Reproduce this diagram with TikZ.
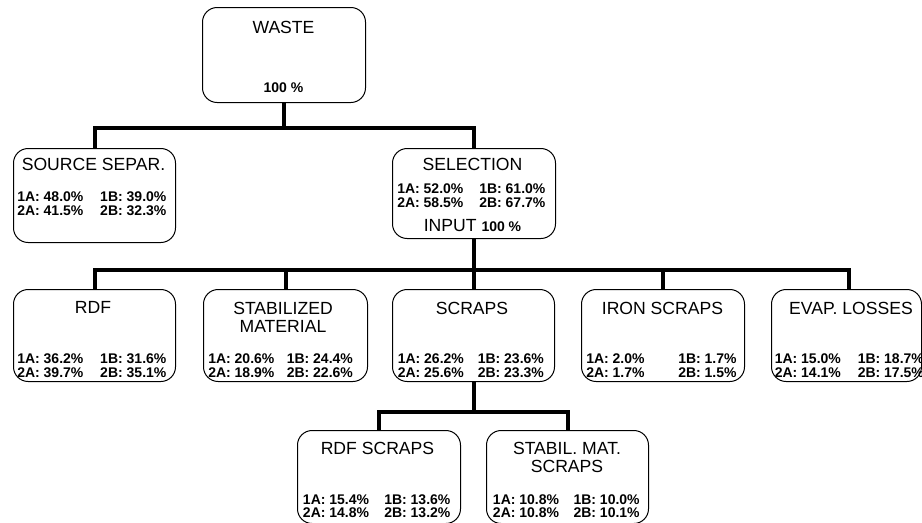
\documentclass[tikz,border=0pt]{standalone}
\usepackage{fontspec}
\setmainfont{Liberation Sans}
\usetikzlibrary{positioning}
\newlength\pxu
\setlength\pxu{0.75pt}
% two columns of shares, #1 = width of the first column in px
\newcommand\rates[5][82]{%
  \makebox[#1\pxu][l]{1A: #2\%}1B: #3\%\\
  \makebox[#1\pxu][l]{2A: #4\%}2B: #5\%}

\begin{document}
\begin{tikzpicture}[x=0.75pt,y=-0.75pt,
  box/.style 2 args={draw,line width=.75pt,rounded corners=11pt,anchor=north west,
    inner sep=0pt,minimum width=#1*0.75pt,minimum height=#2*0.75pt},
  title/.style={font=\fontsize{13.2}{13.7}\selectfont,align=center,anchor=north,inner sep=0pt},
  share/.style={font=\fontsize{10.5}{10.3}\selectfont\bfseries,align=left,anchor=north west,inner sep=0pt},
  trunk/.style={draw,line width=3pt}
]
\useasboundingbox (0,0) rectangle (922,522);
% level 0
\node[box={163}{95}] (waste) at (202,7) {};
\node[title] (waste-name) at (283.5,20.7) {WASTE};
\node[share,anchor=north] (waste-share) at (283.5,82) {100 \%};
% level 1
\node[box={162}{94}] (source) at (13,148) {};
\node[title] (source-name) at (93.5,158.3) {SOURCE SEPAR.};
\node[share] (source-share) at (17,191.7) {\rates[83]{48.0}{39.0}{41.5}{32.3}};
\node[box={163}{90}] (selection) at (392,148) {};
\node[title] (selection-name) at (472.5,158.3) {SELECTION};
\node[share] (selection-share) at (397,183.3) {\rates{52.0}{61.0}{58.5}{67.7}};
\node[title] (selection-input) at (472.5,219)
  {INPUT {\fontsize{10.5}{10.3}\selectfont\bfseries 100 \%}};
% level 2
\node[box={162}{92}] (rdf) at (13,289) {};
\node[title] (rdf-name) at (93,301.2) {RDF};
\node[share] (rdf-share) at (17,353.5) {\rates[83]{36.2}{31.6}{39.7}{35.1}};
\node[box={164}{92}] (stab) at (203,289) {};
\node[title] (stab-name) at (283,301.5) {STABILIZED\\MATERIAL};
\node[share] (stab-share) at (208,353.5) {\rates[78.5]{20.6}{24.4}{18.9}{22.6}};
\node[box={162}{92}] (scraps) at (392,289) {};
\node[title] (scraps-name) at (472,301.5) {SCRAPS};
\node[share] (scraps-share) at (397.5,353.5) {\rates[80]{26.2}{23.6}{25.6}{23.3}};
\node[box={163}{92}] (iron) at (581,289) {};
\node[title] (iron-name) at (662.5,301.5) {IRON SCRAPS};
\node[share] (iron-share) at (586,353.5) {\rates[92]{2.0}{1.7}{1.7}{1.5}};
\node[box={150}{92}] (evap) at (771,289) {};
\node[title] (evap-name) at (851,301.5) {EVAP. LOSSES};
\node[share] (evap-share) at (774.5,353.5) {\rates[83]{15.0}{18.7}{14.1}{17.5}};
% level 3
\node[box={163}{93}] (rdfscraps) at (297,430) {};
\node[title] (rdfscraps-name) at (377.5,441.7) {RDF SCRAPS};
\node[share] (rdfscraps-share) at (302.7,494) {\rates[81.3]{15.4}{13.6}{14.8}{13.2}};
\node[box={162}{93}] (stabscraps) at (486,430) {};
\node[title] (stabscraps-name) at (567,441.7) {STABIL. MAT.\\SCRAPS};
\node[share] (stabscraps-share) at (492.7,494) {\rates[80.6]{10.8}{10.0}{10.8}{10.1}};
% connectors
\coordinate (bus0) at (0,127.7);
\coordinate (bus1) at (0,270);
\coordinate (bus2) at (0,412.3);
\draw[trunk] (waste.south) -- (waste.south |- bus0) -| (source.north);
\draw[trunk] (waste.south |- bus0) -| (selection.north);
\draw[trunk] (selection.south) -- (selection.south |- bus1) -| (rdf.north);
\foreach \kid in {stab,scraps,iron}
  \draw[trunk] (selection.south |- bus1) -| (\kid.north);
\draw[trunk] (selection.south |- bus1) -| ([xshift=1.5pt]evap.north);
\draw[trunk] (scraps.south) -- (scraps.south |- bus2) -| (rdfscraps.north);
\draw[trunk] (scraps.south |- bus2) -| (stabscraps.north);
\end{tikzpicture}
\end{document}
